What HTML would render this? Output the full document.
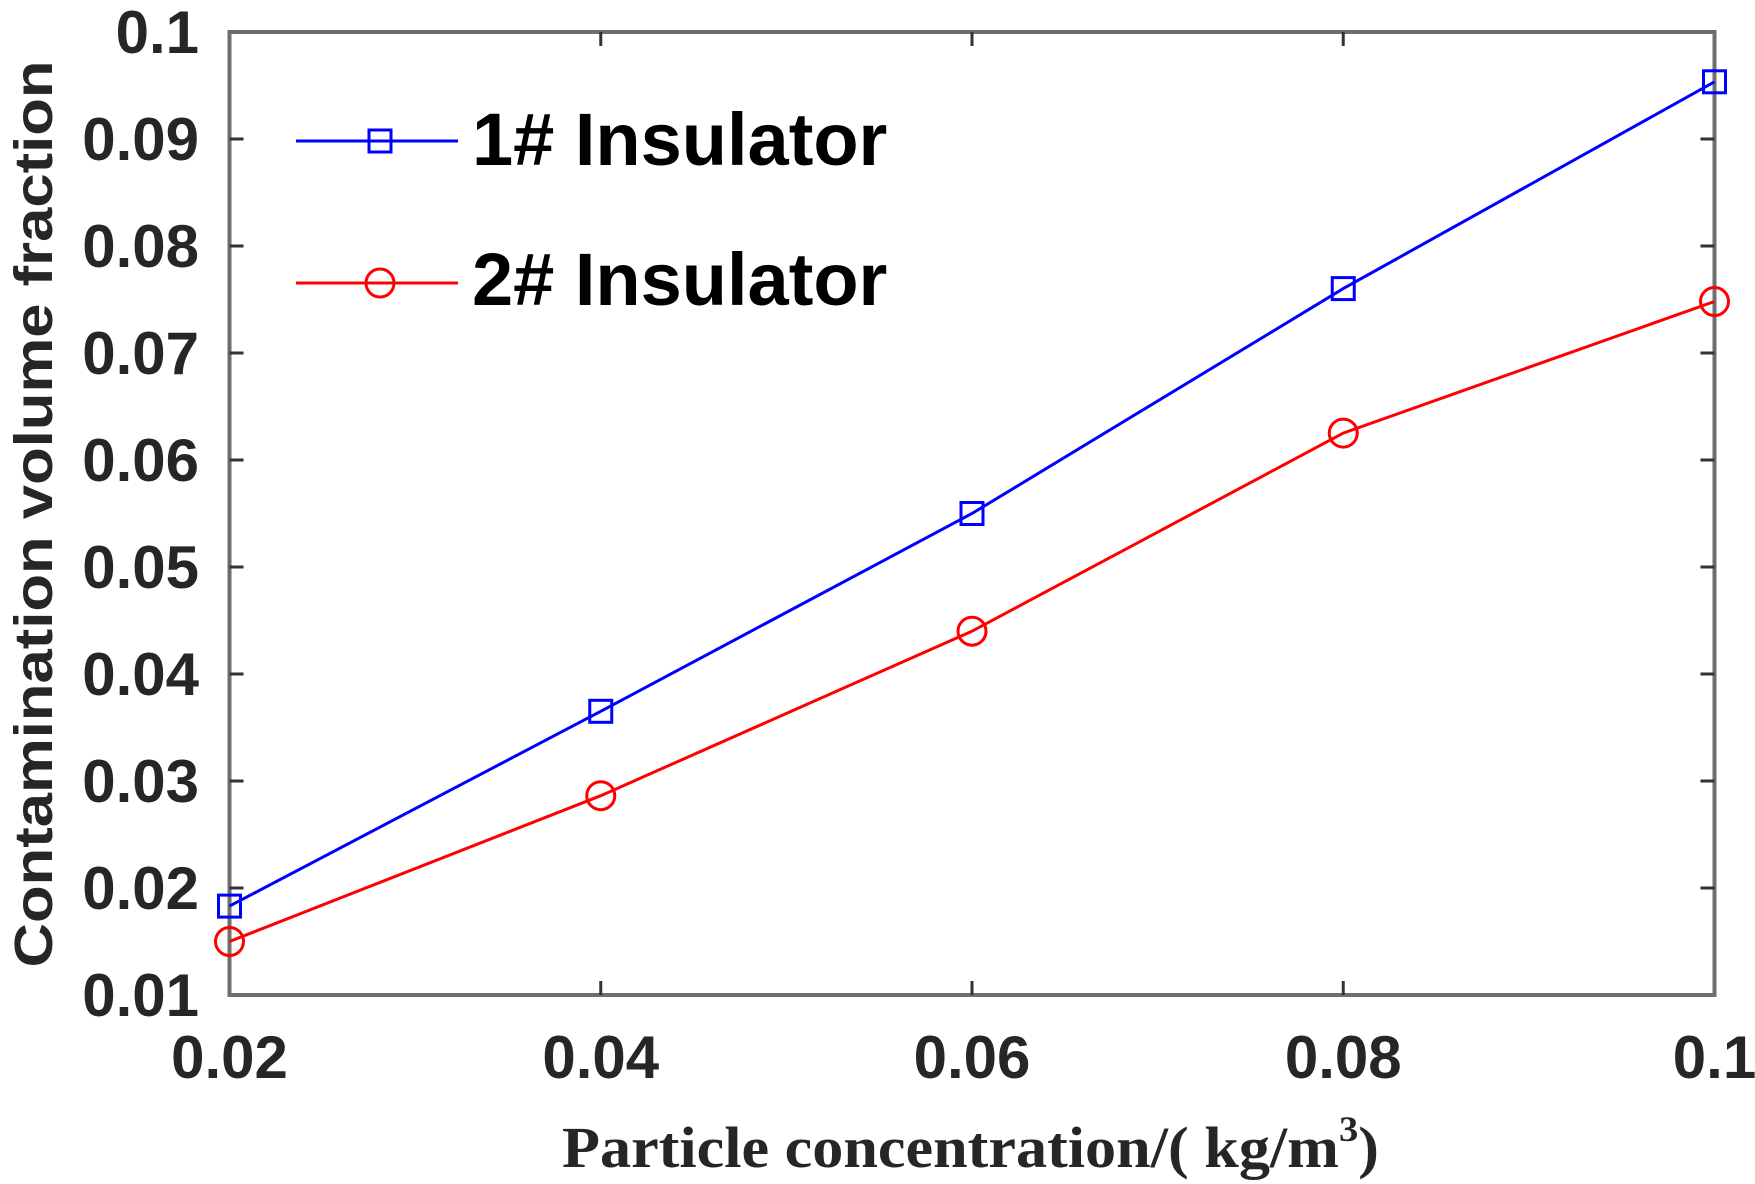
<!DOCTYPE html>
<html><head><meta charset="utf-8"><style>html,body{margin:0;padding:0;background:#fff}svg{display:block}</style></head>
<body>
<svg width="1755" height="1184" viewBox="0 0 1755 1184" xmlns="http://www.w3.org/2000/svg">
<rect width="1755" height="1184" fill="#fff"/>
<g stroke="#6e6e6e" stroke-width="4" fill="none">
<rect x="229.5" y="32" width="1485" height="963"/>
</g>
<g stroke="#333" stroke-width="3">
<path d="M600.75 995v-14M972 995v-14M1343.25 995v-14M600.75 32v14M972 32v14M1343.25 32v14"/>
<path d="M229.5 139h14M229.5 246h14M229.5 353h14M229.5 460h14M229.5 567h14M229.5 674h14M229.5 781h14M229.5 888h14"/>
<path d="M1714.5 139h-14M1714.5 246h-14M1714.5 353h-14M1714.5 460h-14M1714.5 567h-14M1714.5 674h-14M1714.5 781h-14M1714.5 888h-14"/>
</g>
<g font-family="Liberation Sans, Arial, sans-serif" font-weight="bold" font-size="60" fill="#262626" text-anchor="end">
<text x="199" y="53">0.1</text>
<text x="199" y="160">0.09</text>
<text x="199" y="267">0.08</text>
<text x="199" y="374">0.07</text>
<text x="199" y="481">0.06</text>
<text x="199" y="588">0.05</text>
<text x="199" y="695">0.04</text>
<text x="199" y="802">0.03</text>
<text x="199" y="909">0.02</text>
<text x="199" y="1016">0.01</text>
</g>
<g font-family="Liberation Sans, Arial, sans-serif" font-weight="bold" font-size="60" fill="#262626" text-anchor="middle">
<text x="229.5" y="1078">0.02</text>
<text x="600.75" y="1078">0.04</text>
<text x="972" y="1078">0.06</text>
<text x="1343.25" y="1078">0.08</text>
<text x="1714.5" y="1078">0.1</text>
</g>
<text transform="translate(52,514) rotate(-90)" font-family="Liberation Sans, Arial, sans-serif" font-weight="bold" font-size="54" fill="#262626" text-anchor="middle" textLength="907" lengthAdjust="spacingAndGlyphs">Contamination volume fraction</text>
<text x="562" y="1167" font-family="Liberation Serif, Times New Roman, serif" font-weight="bold" font-size="58" fill="#262626" textLength="817" lengthAdjust="spacingAndGlyphs">Particle concentration/( kg/m<tspan dy="-26" font-size="36">3</tspan><tspan dy="26">)</tspan></text>
<!-- blue series -->
<polyline fill="none" stroke="#0000ff" stroke-width="3" points="229.5,906.1 600.75,711.3 972,513.5 1343.25,288.6 1714.5,81.8"/>
<g fill="none" stroke="#0000ff" stroke-width="3">
<rect x="218.5" y="895.1" width="22" height="22"/>
<rect x="589.75" y="700.3" width="22" height="22"/>
<rect x="961" y="502.5" width="22" height="22"/>
<rect x="1332.25" y="277.6" width="22" height="22"/>
<rect x="1703.5" y="70.8" width="22" height="22"/>
</g>
<!-- red series -->
<polyline fill="none" stroke="#ff0000" stroke-width="3" points="229.5,941.5 600.75,795.7 972,631.2 1343.25,433.1 1714.5,301.5"/>
<g fill="none" stroke="#ff0000" stroke-width="3">
<circle cx="229.5" cy="941.5" r="14"/>
<circle cx="600.75" cy="795.7" r="14"/>
<circle cx="972" cy="631.2" r="14"/>
<circle cx="1343.25" cy="433.1" r="14"/>
<circle cx="1714.5" cy="301.5" r="14"/>
</g>
<!-- legend -->
<line x1="296" y1="141" x2="458" y2="141" stroke="#0000ff" stroke-width="3"/>
<rect x="369" y="130" width="22" height="22" fill="none" stroke="#0000ff" stroke-width="3"/>
<line x1="296" y1="283" x2="458" y2="283" stroke="#ff0000" stroke-width="3"/>
<circle cx="380" cy="283" r="14" fill="none" stroke="#ff0000" stroke-width="3"/>
<g font-family="Liberation Sans, Arial, sans-serif" font-weight="bold" font-size="74" fill="#000">
<text x="472" y="165">1# Insulator</text>
<text x="472" y="305">2# Insulator</text>
</g>
</svg>
</body></html>
